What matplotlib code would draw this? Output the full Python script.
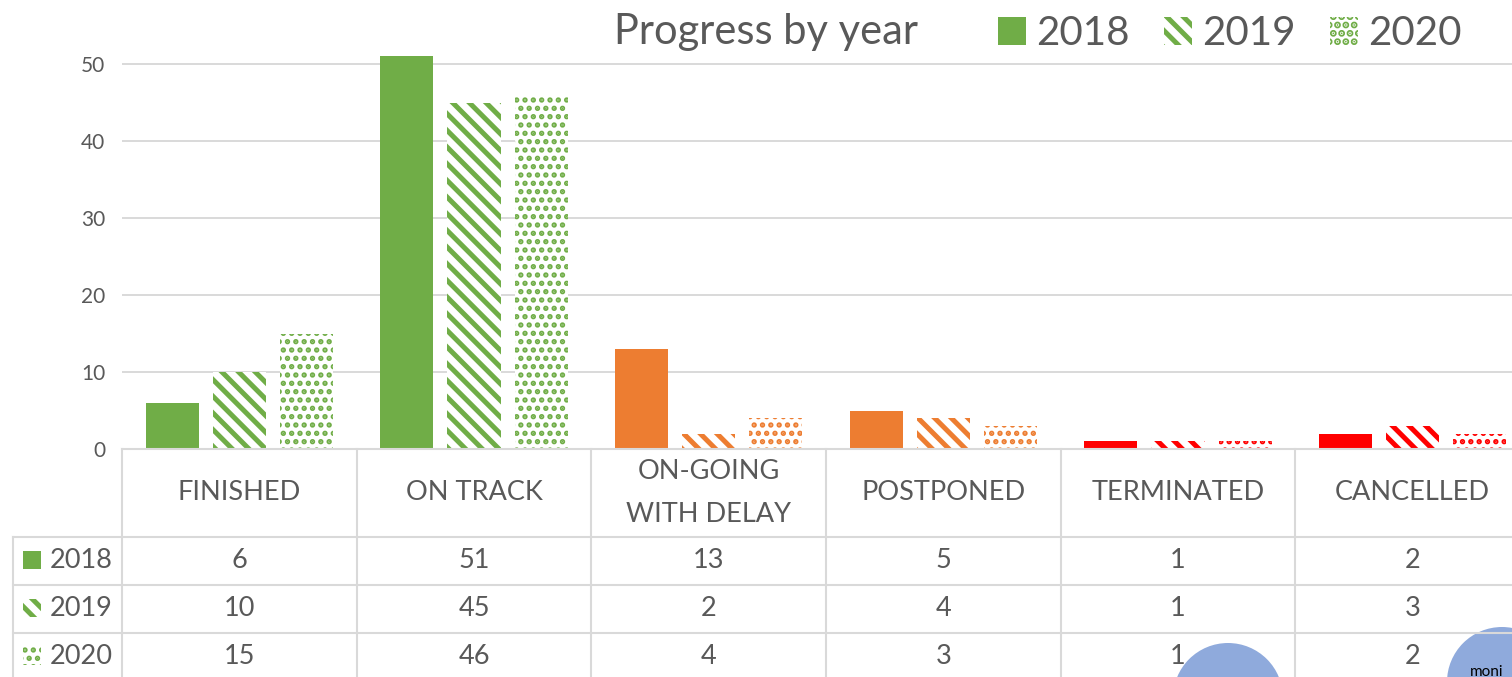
import matplotlib
matplotlib.use('Agg')
import matplotlib.pyplot as plt
import matplotlib.transforms as mtransforms
from matplotlib.patches import Patch, Rectangle, Ellipse
from matplotlib.lines import Line2D

categories = ['FINISHED', 'ON TRACK', 'ON-GOING\nWITH DELAY', 'POSTPONED', 'TERMINATED', 'CANCELLED']
years = ['2018', '2019', '2020']
v2018 = [6, 51, 13, 5, 1, 2]
v2019 = [10, 45, 2, 4, 1, 3]
v2020 = [15, 46, 4, 3, 1, 2]
series = [v2018, v2019, v2020]

cat_colors = ['#70AD47', '#70AD47', '#ED7D31', '#ED7D31', '#FF0000', '#FF0000']
hatches = [None, '\\\\', '..']
hatch_lw = [0, 3.6, 2.6]
text_col = '#595959'
grid_col = '#D9D9D9'

plt.rcParams['font.family'] = ['Lato', 'DejaVu Sans']
plt.rcParams['hatch.linewidth'] = 3.6

W, H = 1512, 677
fig = plt.figure(figsize=(W / 100, H / 100), dpi=100)


def hatch_width(artist, k):
    # per-artist hatch width where the matplotlib version allows it
    if hasattr(artist, 'set_hatch_linewidth') and hatch_lw[k]:
        artist.set_hatch_linewidth(hatch_lw[k])
    return artist


# plot area: x from 122px to 1530px (runs past the right edge), 0 at 449px
px_per_unit = 7.7
ax = fig.add_axes([122 / W, 1 - 449 / H, 1408 / W, 449 / H])
ax.set_xlim(-0.5, 5.5)
ax.set_ylim(0, 449 / px_per_unit)

bw = 0.226
step = 0.286
for k, vals in enumerate(series):
    for i, v in enumerate(vals):
        x = i + (k - 1) * step
        if hatches[k] is None:
            ax.bar(x, v, width=bw, color=cat_colors[i], linewidth=0, zorder=3)
        else:
            bars = ax.bar(x, v, width=bw, color='white', edgecolor=cat_colors[i],
                          hatch=hatches[k], linewidth=0, zorder=3)
            for b in bars:
                hatch_width(b, k)

ax.set_yticks([0, 10, 20, 30, 40, 50])
ax.yaxis.grid(True, color=grid_col, linewidth=1.4)
ax.set_axisbelow(True)
ax.tick_params(axis='y', length=0, pad=12, labelsize=15, labelcolor=text_col)
ax.set_xticks([])
for s in ax.spines.values():
    s.set_visible(False)

# data table under the chart
tr = mtransforms.blended_transform_factory(ax.transData, fig.transFigure)


def fy(p):
    return 1 - p / H


lw_tab = 1.5
for b in range(7):
    fig.add_artist(Line2D([b - 0.5, b - 0.5], [fy(449), fy(H + 5)], transform=tr,
                          color=grid_col, lw=lw_tab))
fig.add_artist(Line2D([122 / W, 1], [fy(449), fy(449)], color=grid_col, lw=lw_tab))
for yl in [537, 585, 633]:
    fig.add_artist(Line2D([13 / W, 1], [fy(yl), fy(yl)], color=grid_col, lw=lw_tab))
fig.add_artist(Line2D([13 / W, 13 / W], [fy(537), fy(H + 5)], color=grid_col, lw=lw_tab))

for i, c in enumerate(categories):
    fig.text(i, fy(493), c, transform=tr, ha='center', va='center',
             fontsize=19.5, color=text_col, linespacing=1.88)

row_y = [560, 608, 656]
for k, vals in enumerate(series):
    for i, v in enumerate(vals):
        fig.text(i, fy(row_y[k]), str(v), transform=tr, ha='center', va='center',
                 fontsize=19.5, color=text_col)
    if hatches[k] is None:
        r = Rectangle((23 / W, fy(row_y[k] + 9)), 18 / W, 18 / H, transform=fig.transFigure,
                      facecolor='#70AD47', linewidth=0)
    else:
        r = Rectangle((23 / W, fy(row_y[k] + 9)), 18 / W, 18 / H, transform=fig.transFigure,
                      facecolor='white', edgecolor='#70AD47', hatch=hatches[k], linewidth=0)
        hatch_width(r, k)
    fig.add_artist(r)
    fig.text(50 / W, fy(row_y[k]), years[k], ha='left', va='center',
             fontsize=19.5, color=text_col)

# title and legend
fig.text(766 / W, fy(44), 'Progress by year', ha='center', va='baseline',
         fontsize=30, color=text_col)
handles = []
for k in range(3):
    if hatches[k] is None:
        handles.append(Patch(facecolor='#70AD47', linewidth=0))
    else:
        handles.append(hatch_width(Patch(facecolor='white', edgecolor='#70AD47',
                                         hatch=hatches[k], linewidth=0), k))
fig.legend(handles, years, loc='upper left', bbox_to_anchor=(982 / W, fy(-1)), ncol=3,
           frameon=False, fontsize=29, labelcolor=text_col, handlelength=0.7,
           handleheight=0.7, handletextpad=0.25, columnspacing=0.85, borderaxespad=0)

# shapes overlapping from the page
fig.add_artist(Ellipse((1228 / W, fy(698)), 110 / W, 110 / H, transform=fig.transFigure,
                       facecolor='#8FAADC', linewidth=0))
fig.add_artist(Ellipse((1502 / W, fy(682)), 110 / W, 110 / H, transform=fig.transFigure,
                       facecolor='#8FAADC', linewidth=0))
fig.text(1470 / W, fy(676), 'moni', ha='left', va='baseline', fontsize=11, color='black')

plt.savefig('out.png', dpi=100)
